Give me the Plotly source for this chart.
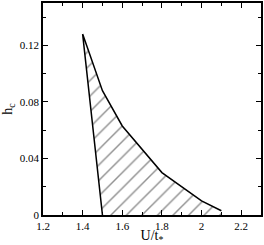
import plotly.graph_objects as go

# boundary of the hatched region (U/t*, h_c)
u_vals = [1.5, 1.4, 1.5, 1.6, 1.8, 2.0, 2.1]
h_vals = [0.0, 0.128, 0.088, 0.063, 0.030, 0.010, 0.003]

x_ticks = [1.2, 1.4, 1.6, 1.8, 2.0, 2.2]
x_ticktext = ["1.2", "1.4", "1.6", "1.8", "2", "2.2"]
y_ticks = [0, 0.04, 0.08, 0.12]
y_ticktext = ["0", "0.04", "0.08", "0.12"]

font_family = "Liberation Serif"

fig = go.Figure()
# hatched fill (closed along the axis)
fig.add_trace(go.Scatter(
    x=u_vals + [u_vals[-1]], y=h_vals + [0.0],
    mode="lines", fill="toself", line=dict(width=0, color="black"),
    fillcolor="white",
    fillpattern=dict(shape="/", fgcolor="#222222", bgcolor="white", size=11, solidity=0.13),
    hoverinfo="skip", showlegend=False))
# outline
fig.add_trace(go.Scatter(
    x=u_vals, y=h_vals, mode="lines",
    line=dict(color="black", width=1.5), showlegend=False))

axis_common = dict(
    showline=True, linecolor="black", linewidth=1.5, mirror="ticks",
    ticks="inside", ticklen=5, tickcolor="black", tickwidth=1,
    showgrid=False, zeroline=False,
    tickfont=dict(family=font_family, size=11, color="black"),
)
fig.update_xaxes(range=[1.2, 2.3], tickvals=x_ticks, ticktext=x_ticktext,
                 minor=dict(ticks="inside", ticklen=3, dtick=0.1, tick0=1.2, tickcolor="black"),
                 title=dict(text="U/t<sub>*</sub>", font=dict(family=font_family, size=14, color="black"), standoff=2),
                 **axis_common)
fig.update_yaxes(range=[0, 0.15], tickvals=y_ticks, ticktext=y_ticktext,
                 minor=dict(ticks="inside", ticklen=3, dtick=0.02, tick0=0, tickcolor="black"),
                 title=dict(text="h<sub>c</sub>", font=dict(family=font_family, size=14, color="black"), standoff=4),
                 **axis_common)
fig.update_layout(width=264, height=245, margin=dict(l=43, r=1, t=1, b=29),
                  plot_bgcolor="white", paper_bgcolor="white", showlegend=False)
fig.write_html("out.html", config={"displayModeBar": False},
               post_script="document.body.style.margin='0';document.body.style.overflow='hidden';")
